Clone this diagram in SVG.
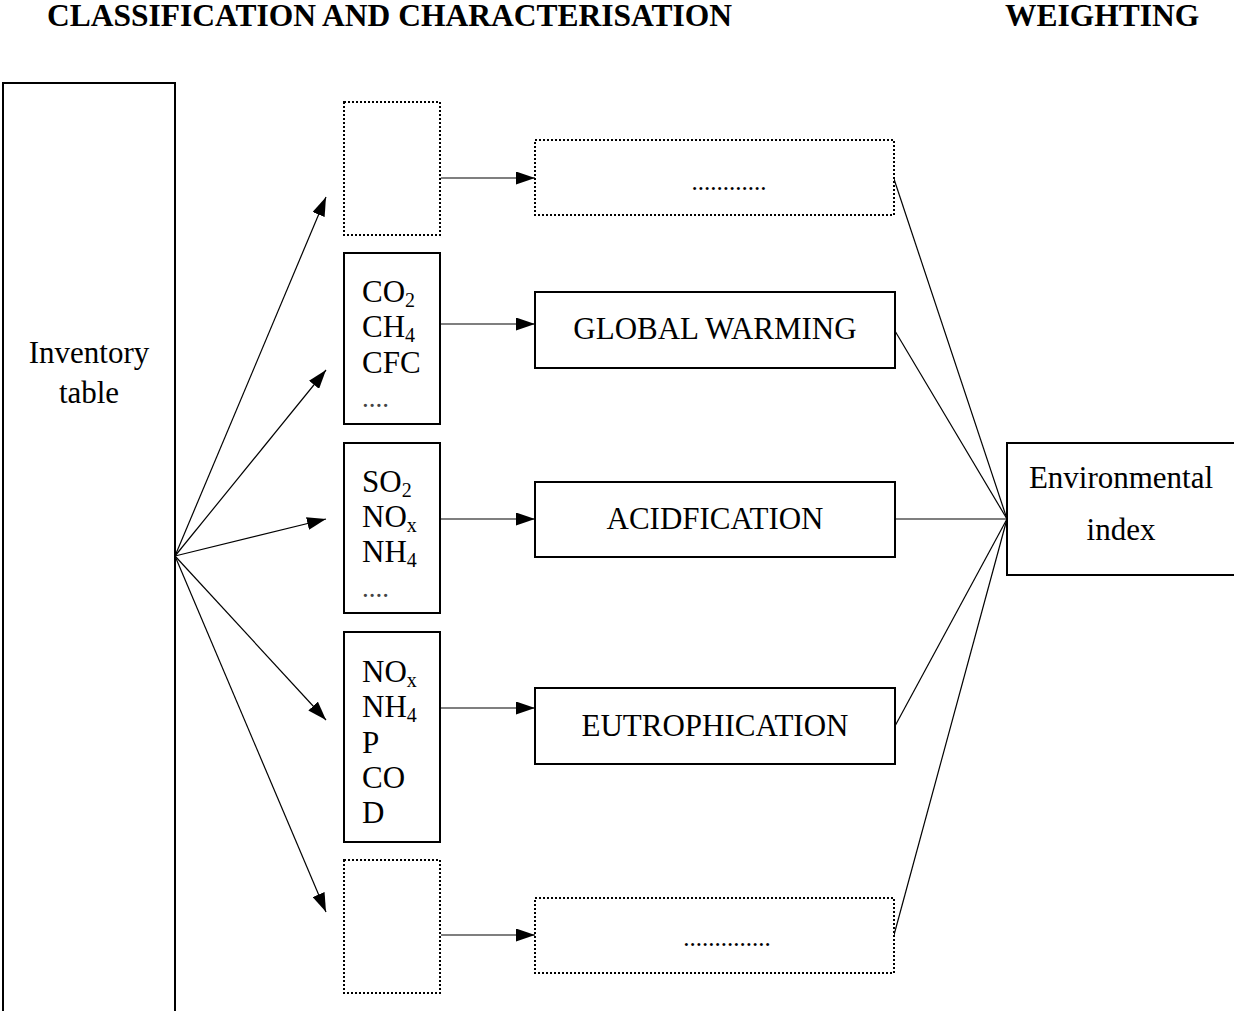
<svg xmlns="http://www.w3.org/2000/svg" width="1234" height="1011" viewBox="0 0 1234 1011">
  <style>
    .box { fill: #fff; stroke: #000; stroke-width: 2; }
    .dot { fill: #fff; stroke: #000; stroke-width: 2; stroke-dasharray: 2 2; }
    .t { font-family: "Liberation Serif", "Times New Roman", serif; font-size: 31px; fill: #000; }
    .c { text-anchor: middle; }
    .head { font-family: "Liberation Serif", "Times New Roman", serif; font-size: 31.5px; font-weight: bold; fill: #000; }
    .sub { font-size: 20px; }
    .ell { font-family: "Liberation Serif", "Times New Roman", serif; font-size: 25px; fill: #000; text-anchor: middle; }
    .ell2 { font-family: "Liberation Serif", "Times New Roman", serif; font-size: 27px; fill: #444; }
    .ln { stroke: #000; stroke-width: 1.2; fill: none; }
    .arr { stroke: #000; stroke-width: 1.2; fill: none; marker-end: url(#ah); }
  </style>
  <defs>
    <marker id="ah" markerWidth="19" markerHeight="13" refX="19" refY="6.5" orient="auto" markerUnits="userSpaceOnUse">
      <path d="M0,0 L19,6.5 L0,13 Z" fill="#000"/>
    </marker>
  </defs>

  <rect width="1234" height="1011" fill="#fff"/>

  <!-- headings -->
  <text class="head" x="47" y="26">CLASSIFICATION AND CHARACTERISATION</text>
  <text class="head" x="1005" y="26">WEIGHTING</text>

  <!-- connectors -->
  <g id="connectors">
    <!-- fan out from the inventory table -->
    <line class="arr" x1="175" y1="556" x2="326" y2="197"/>
    <line class="arr" x1="175" y1="556" x2="326" y2="370"/>
    <line class="arr" x1="175" y1="556" x2="326" y2="519"/>
    <line class="arr" x1="175" y1="556" x2="326" y2="720"/>
    <line class="arr" x1="175" y1="556" x2="326" y2="912"/>
    <!-- substance groups to impact categories -->
    <line class="arr" x1="441" y1="178" x2="535" y2="178"/>
    <line class="arr" x1="441" y1="324" x2="535" y2="324"/>
    <line class="arr" x1="441" y1="519" x2="535" y2="519"/>
    <line class="arr" x1="441" y1="708" x2="535" y2="708"/>
    <line class="arr" x1="441" y1="935" x2="535" y2="935"/>
    <!-- impact categories to the index -->
    <line class="ln" x1="894" y1="179" x2="1007" y2="519"/>
    <line class="ln" x1="895" y1="331" x2="1007" y2="519"/>
    <line class="ln" x1="895" y1="519" x2="1007" y2="519"/>
    <line class="ln" x1="895" y1="726" x2="1007" y2="519"/>
    <line class="ln" x1="894" y1="935" x2="1007" y2="519"/>
  </g>

  <g id="inventory">
    <rect class="box" x="3" y="83" width="172" height="940"/>
    <text class="t c" x="89" y="363">Inventory</text>
    <text class="t c" x="89" y="403">table</text>
  </g>

  <g id="group-top">
    <rect class="dot" x="344" y="102" width="96" height="133"/>
  </g>

  <g id="group-warming">
    <rect class="box" x="344" y="253" width="96" height="171"/>
    <text class="t" x="362" y="302">CO<tspan class="sub" dy="5">2</tspan></text>
    <text class="t" x="362" y="337">CH<tspan class="sub" dy="5">4</tspan></text>
    <text class="t" x="362" y="373">CFC</text>
    <text class="ell2" x="362" y="407">....</text>
  </g>

  <g id="group-acid">
    <rect class="box" x="344" y="443" width="96" height="170"/>
    <text class="t" x="362" y="492">SO<tspan class="sub" dy="5">2</tspan></text>
    <text class="t" x="362" y="527">NO<tspan class="sub" dy="5">x</tspan></text>
    <text class="t" x="362" y="562">NH<tspan class="sub" dy="5">4</tspan></text>
    <text class="ell2" x="362" y="597">....</text>
  </g>

  <g id="group-eutro">
    <rect class="box" x="344" y="632" width="96" height="210"/>
    <text class="t" x="362" y="682">NO<tspan class="sub" dy="5">x</tspan></text>
    <text class="t" x="362" y="717">NH<tspan class="sub" dy="5">4</tspan></text>
    <text class="t" x="362" y="753">P</text>
    <text class="t" x="362" y="788">CO</text>
    <text class="t" x="362" y="823">D</text>
  </g>

  <g id="group-bottom">
    <rect class="dot" x="344" y="860" width="96" height="133"/>
  </g>

  <g id="cat-top">
    <rect class="dot" x="535" y="140" width="359" height="75"/>
    <text class="ell" x="729" y="190">............</text>
  </g>

  <g id="cat-warming">
    <rect class="box" x="535" y="292" width="360" height="76"/>
    <text class="t c" x="715" y="339">GLOBAL WARMING</text>
  </g>

  <g id="cat-acid">
    <rect class="box" x="535" y="482" width="360" height="75"/>
    <text class="t c" x="715" y="529">ACIDFICATION</text>
  </g>

  <g id="cat-eutro">
    <rect class="box" x="535" y="688" width="360" height="76"/>
    <text class="t c" x="715" y="736">EUTROPHICATION</text>
  </g>

  <g id="cat-bottom">
    <rect class="dot" x="535" y="898" width="359" height="75"/>
    <text class="ell" x="727" y="946">..............</text>
  </g>

  <g id="index">
    <rect class="box" x="1007" y="443" width="240" height="132"/>
    <text class="t c" x="1121" y="488">Environmental</text>
    <text class="t c" x="1121" y="540">index</text>
  </g>
</svg>
